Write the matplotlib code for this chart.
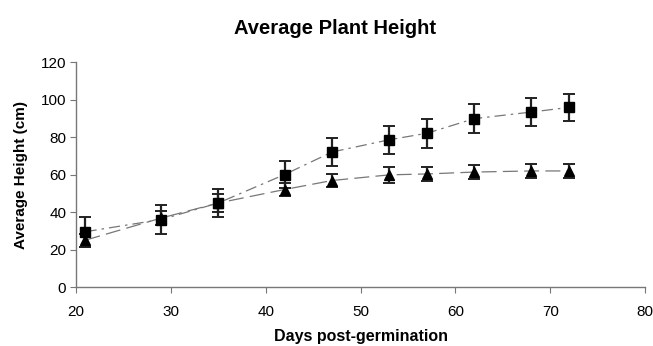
import matplotlib
matplotlib.use("Agg")
import matplotlib.pyplot as plt
import numpy as np

plt.rcParams["font.family"] = ["Liberation Sans", "DejaVu Sans"]

days = [21, 29, 35, 42, 47, 53, 57, 62, 68, 72]
square_height = [29.5, 36, 44.8, 60, 72, 78.5, 82, 89.8, 93.3, 95.8]
square_err = [8, 7.7, 7.5, 7.4, 7.6, 7.4, 7.6, 7.8, 7.5, 7.4]
triangle_height = [25, 36.8, 44.8, 52, 56.8, 59.8, 60.3, 61.3, 61.9, 61.9]
triangle_err = [3.5, 3.8, 4.6, 3.6, 3.6, 4.1, 3.8, 3.7, 3.6, 3.6]

fig = plt.figure(figsize=(6.53, 3.46), dpi=100)
ax = fig.add_axes([0.1164, 0.1705, 0.8714, 0.6503])

ax.errorbar(days, square_height, yerr=square_err, marker="s", markersize=6.5,
            color="black", ecolor="#222222", elinewidth=1.6, capsize=4,
            capthick=1.4, linestyle="none", zorder=3)
ax.plot(days, square_height, color="#777777", linewidth=0.9,
        dashes=(9, 4, 2, 4), zorder=2)

ax.errorbar(days, triangle_height, yerr=triangle_err, marker="^", markersize=6.5,
            color="black", ecolor="#222222", elinewidth=1.6, capsize=4,
            capthick=1.4, linestyle="none", zorder=3)
ax.plot(days, triangle_height, color="#777777", linewidth=0.9,
        dashes=(12, 5), zorder=2)

ax.set_xlim(20, 80)
ax.set_ylim(0, 120)
ax.set_xticks(np.arange(20, 81, 10))
ax.set_yticks(np.arange(0, 121, 20))

for s in ["top", "right"]:
    ax.spines[s].set_visible(False)
for s in ["left", "bottom"]:
    ax.spines[s].set_color("#777777")
    ax.spines[s].set_linewidth(1.0)
ax.tick_params(direction="out", length=4, color="#777777", labelsize=11)
ax.tick_params(axis="x", pad=9)
ax.tick_params(axis="y", pad=3)

ax.set_xlabel("Days post-germination", fontsize=11.5, fontweight="bold",
              labelpad=7)
ax.set_ylabel("Average Height (cm)", fontsize=11, fontweight="bold",
              labelpad=9)
fig.text(335 / 653, 1 - 29 / 346, "Average Plant Height", fontsize=14.5,
         fontweight="bold", ha="center", va="center")

plt.savefig("out.png", dpi=100)
